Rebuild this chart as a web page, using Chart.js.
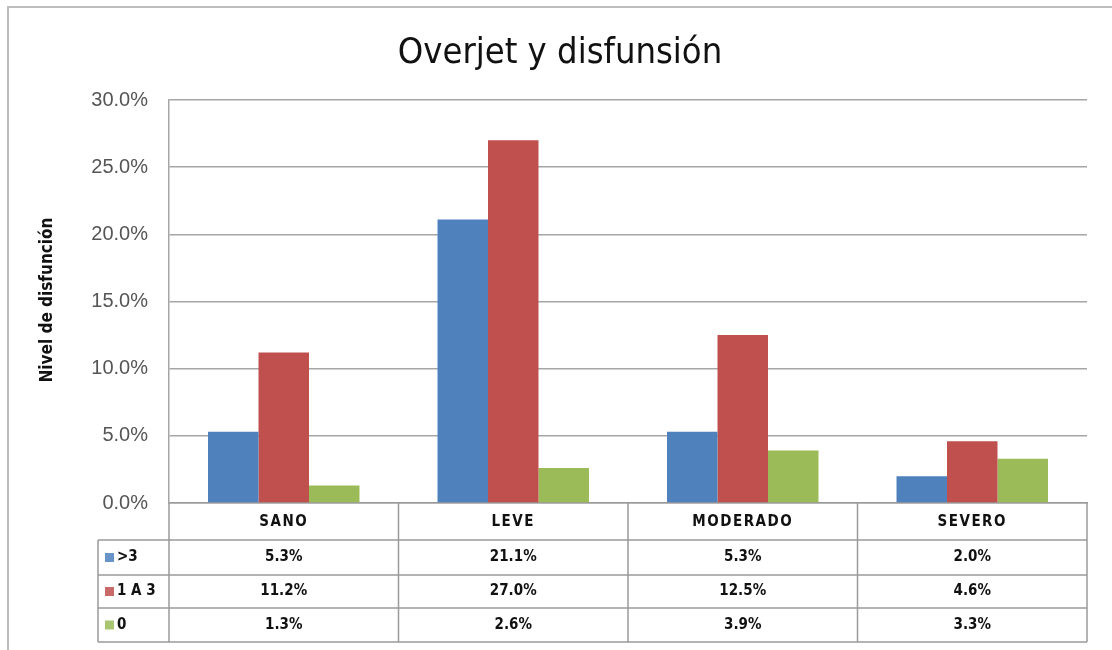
<!DOCTYPE html>
<html>
<head>
<meta charset="utf-8">
<script src="https://cdn.jsdelivr.net/npm/chart.js@4/dist/chart.umd.min.js"></script>
<style>
  html, body { margin: 0; padding: 0; background: #fff; }
  #wrap { width: 1112px; height: 650px; position: relative; }
</style>
</head>
<body>
<div id="wrap"><canvas id="c" width="1112" height="650"></canvas></div>
<script>
// Categories (nivel de disfunción) and overjet series, in percent
const categories = ['SANO', 'LEVE', 'MODERADO', 'SEVERO'];
const seriesNames = ['>3', '1 A 3', '0'];
const overjetMayor3 = [5.3, 21.1, 5.3, 2.0];
const overjet1a3 = [11.2, 27.0, 12.5, 4.6];
const overjet0 = [1.3, 2.6, 3.9, 3.3];
const yTicks = [0, 5, 10, 15, 20, 25, 30];

const colors = ['#4F81BD', '#C0504D', '#9BBB59'];
const seriesValues = [overjetMayor3, overjet1a3, overjet0];

const NARROW = "'Liberation Sans Narrow', 'DejaVu Sans Condensed', 'Arial Narrow', sans-serif";

// Frame, title, axis title and the data table under the plot
const decorations = {
  id: 'decorations',
  beforeDraw(chart) {
    const ctx = chart.ctx;
    ctx.save();
    ctx.fillStyle = '#fff';
    ctx.fillRect(0, 0, chart.width, chart.height);
    ctx.strokeStyle = '#bdbdbd';
    ctx.lineWidth = 2;
    ctx.beginPath();
    ctx.moveTo(8, chart.height);
    ctx.lineTo(8, 7);
    ctx.lineTo(chart.width, 7);
    ctx.stroke();
    ctx.restore();
  },
  afterDraw(chart) {
    const ctx = chart.ctx;
    const area = chart.chartArea;
    const x = chart.scales.x;
    ctx.save();

    // title
    ctx.fillStyle = '#111';
    ctx.font = '36px ' + NARROW;
    ctx.textAlign = 'center';
    ctx.textBaseline = 'alphabetic';
    ctx.fillText('Overjet y disfunsión', 560, 63);

    // y axis title
    ctx.save();
    ctx.translate(48, 300);
    ctx.rotate(-Math.PI / 2);
    ctx.font = 'bold 17px ' + NARROW;
    ctx.textAlign = 'center';
    ctx.textBaseline = 'middle';
    ctx.fillStyle = '#111';
    ctx.fillText('Nivel de disfunción', 0, 0);
    ctx.restore();

    // data table
    const rowEdges = [area.bottom, 540, 575, 608, 642];
    const legendLeft = 98;
    const step = (area.right - area.left) / categories.length;
    const colEdges = [area.left];
    categories.forEach((c, i) => colEdges.push(x.getPixelForValue(i) + step / 2));

    ctx.strokeStyle = '#9a9a9a';
    ctx.lineWidth = 1.5;
    ctx.beginPath();
    for (let r = 1; r < rowEdges.length; r++) {
      ctx.moveTo(legendLeft, rowEdges[r]);
      ctx.lineTo(area.right, rowEdges[r]);
    }
    colEdges.forEach(cx => {
      ctx.moveTo(cx, rowEdges[0]);
      ctx.lineTo(cx, rowEdges[rowEdges.length - 1]);
    });
    ctx.moveTo(legendLeft, rowEdges[1]);
    ctx.lineTo(legendLeft, rowEdges[rowEdges.length - 1]);
    ctx.stroke();

    ctx.fillStyle = '#111';
    ctx.textAlign = 'center';
    ctx.textBaseline = 'middle';
    ctx.font = 'bold 15px ' + NARROW;
    try { ctx.letterSpacing = '1.5px'; } catch (e) {}
    categories.forEach((c, i) => {
      ctx.fillText(c, x.getPixelForValue(i), (rowEdges[0] + rowEdges[1]) / 2 + 1);
    });
    try { ctx.letterSpacing = '0px'; } catch (e) {}

    seriesNames.forEach((name, s) => {
      const cy = (rowEdges[s + 1] + rowEdges[s + 2]) / 2;
      ctx.fillStyle = colors[s];
      ctx.globalAlpha = 0.85;
      ctx.fillRect(105, cy - 4.5, 9, 9);
      ctx.globalAlpha = 1;
      ctx.fillStyle = '#111';
      ctx.textAlign = 'left';
      ctx.font = 'bold 15px ' + NARROW;
      ctx.fillText(name, 117, cy);
      ctx.textAlign = 'center';
      seriesValues[s].forEach((v, i) => {
        ctx.fillText(v.toFixed(1) + '%', x.getPixelForValue(i), cy);
      });
    });
    ctx.restore();
  }
};

new Chart(document.getElementById('c'), {
  type: 'bar',
  data: {
    labels: categories,
    datasets: seriesNames.map((name, s) => ({
      label: name,
      data: seriesValues[s],
      backgroundColor: colors[s],
      borderWidth: 0,
      categoryPercentage: 0.66,
      barPercentage: 1.0
    }))
  },
  options: {
    responsive: false,
    animation: false,
    devicePixelRatio: 1,
    layout: { padding: { left: 0, right: 25, top: 100, bottom: 147 } },
    plugins: { legend: { display: false }, title: { display: false }, tooltip: { enabled: false } },
    scales: {
      x: {
        display: true,
        grid: { display: false, drawTicks: false },
        border: { display: true, color: '#9a9a9a', width: 1.5 },
        ticks: { display: false }
      },
      y: {
        min: 0,
        max: 30,
        afterFit(scale) { scale.width = 169; },
        afterBuildTicks(scale) { scale.ticks = yTicks.map(v => ({ value: v })); },
        grid: { color: '#a6a6a6', lineWidth: 1.5, drawTicks: false },
        border: { display: true, color: '#a6a6a6', width: 1.5 },
        ticks: {
          padding: 21,
          color: '#555',
          font: { family: "'Liberation Sans', Arial, sans-serif", size: 20 },
          callback: v => v.toFixed(1) + '%'
        }
      }
    }
  },
  plugins: [decorations]
});
</script>
</body>
</html>
